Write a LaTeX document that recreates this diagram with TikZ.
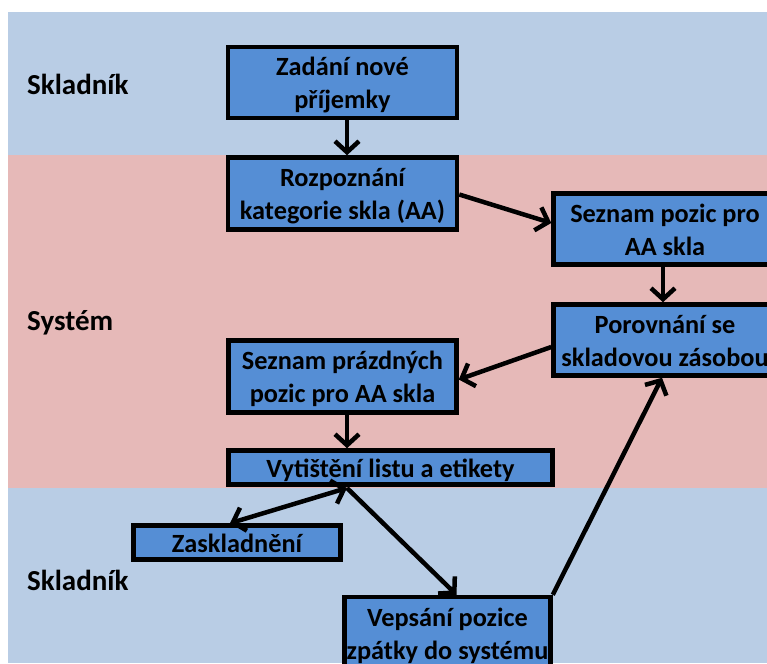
\documentclass[tikz,border=0pt]{standalone}
\usepackage{fontspec}
\setmainfont{Carlito}
\usetikzlibrary{arrows.meta}
\definecolor{laneblue}{HTML}{B9CDE5}
\definecolor{lanepink}{HTML}{E6B9B8}
\definecolor{boxblue}{HTML}{558ED5}
% fixed line box so every text line sits the same way in its box
\newcommand\linestrut{\rule[-7pt]{0pt}{33pt}}
\tikzset{
  stepbox/.style={draw=black, line width=4.5pt, fill=boxblue, align=center,
    font=\bfseries\fontsize{26.3}{33}\selectfont, inner sep=0pt},
  lanelabel/.style={anchor=west, font=\bfseries\fontsize{29}{32}\selectfont, inner sep=0pt},
  barb/.tip={Straight Barb[length=11pt,width=24pt]},
  flow/.style={line width=4.5pt, -{barb}},
  flowboth/.style={line width=4.5pt, {barb}-{barb}}
}
\begin{document}
\begin{tikzpicture}[x=1pt, y=-1pt]
\useasboundingbox (0,0) rectangle (767,663);
\begin{scope}
\clip (0,0) rectangle (767,663);
% swim lanes
\fill[laneblue] (8,12) rectangle (767,155);
\fill[lanepink] (8,155) rectangle (767,488);
\fill[laneblue] (8,488) rectangle (767,663);
\node[lanelabel] (lane1) at (27,84) {Skladník};
\node[lanelabel] (lane2) at (27,323) {Systém};
\node[lanelabel] (lane3) at (27,580) {Skladník};
% process steps
\node[stepbox, minimum width=229pt, minimum height=71pt] (zadani) at (342.5,82.5)
  {\linestrut Zadání nové\\\linestrut příjemky};
\node[stepbox, minimum width=229pt, minimum height=72pt] (rozpoz) at (342.5,193.5)
  {\linestrut Rozpoznání\\\linestrut kategorie skla (AA)};
\node[stepbox, minimum width=223pt, minimum height=71pt] (pozice) at (665,229)
  {\linestrut Seznam pozic pro\\\linestrut AA skla};
\node[stepbox, minimum width=223pt, minimum height=71pt] (porov) at (665,340)
  {\linestrut Porovnání se\\\linestrut skladovou zásobou};
\node[stepbox, minimum width=228pt, minimum height=72pt] (prazdne) at (342.5,376.5)
  {\linestrut Seznam prázdných\\\linestrut pozic pro AA skla};
\node[stepbox, minimum width=324pt, minimum height=34pt] (tisk) at (390.5,467.5)
  {\linestrut Vytištění listu a etikety};
\node[stepbox, minimum width=207pt, minimum height=34pt] (zasklad) at (237,542.5)
  {\linestrut Zaskladnění};
\node[stepbox, minimum width=206pt, minimum height=72pt] (vepsani) at (447.5,633)
  {\linestrut Vepsání pozice\\\linestrut zpátky do systému};
\coordinate (tiskbase) at (347,488);
% flow connectors
\draw[flow] (zadani.south -| tiskbase) -- (rozpoz.north -| tiskbase);
\draw[flow] ([yshift=-1pt]rozpoz.east) -- ([yshift=6pt]pozice.west);
\draw[flow] ([xshift=-2pt]pozice.south) -- ([xshift=-2pt]porov.north);
\draw[flow] ([yshift=-7pt]porov.west) -- ([yshift=-3pt]prazdne.east);
\draw[flow] (prazdne.south -| tiskbase) -- (tisk.north -| tiskbase);
\draw[flowboth] (tiskbase) -- ([xshift=-7pt]zasklad.north);
\draw[flow] (tiskbase) -- ([xshift=9pt]vepsani.north);
\draw[flow] (vepsani.north east) -- ([xshift=-3pt]porov.south);
\end{scope}
\end{tikzpicture}
\end{document}
